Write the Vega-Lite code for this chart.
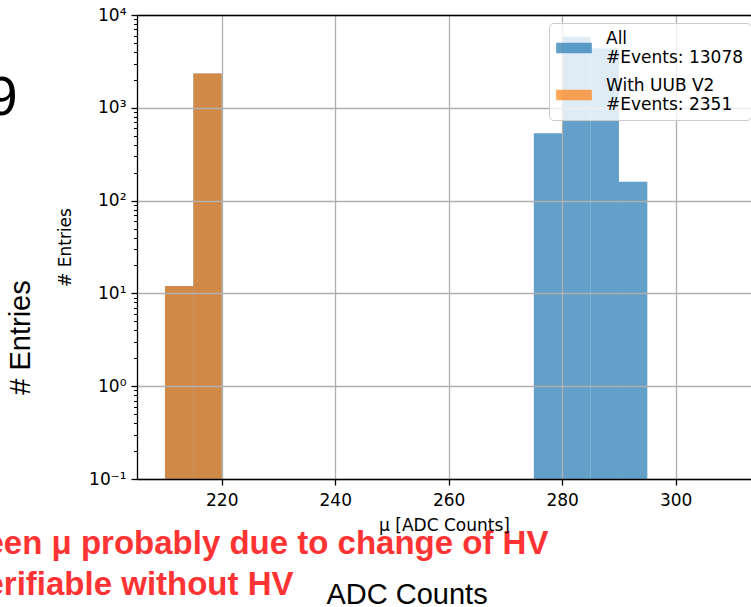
{
  "$schema": "https://vega.github.io/schema/vega-lite/v6.json",
  "width": 614,
  "height": 464,
  "autosize": {"type": "none"},
  "padding": {"left": 137, "top": 15, "right": 0, "bottom": 128},
  "background": "white",
  "view": {"stroke": null},
  "data": {
    "values": [
      {"series": "All", "bin_start": 210, "bin_end": 215, "count": 12},
      {"series": "All", "bin_start": 215, "bin_end": 220, "count": 2339},
      {"series": "All", "bin_start": 275, "bin_end": 280, "count": 531},
      {"series": "All", "bin_start": 280, "bin_end": 285, "count": 5840},
      {"series": "All", "bin_start": 285, "bin_end": 290, "count": 4375},
      {"series": "All", "bin_start": 290, "bin_end": 295, "count": 160},
      {"series": "With UUB V2", "bin_start": 210, "bin_end": 215, "count": 12},
      {"series": "With UUB V2", "bin_start": 215, "bin_end": 220, "count": 2339}
    ]
  },
  "resolve": {"axis": {"x": "independent", "y": "independent"}},
  "layer": [
    {
      "mark": {"type": "bar", "opacity": 0.7, "stroke": null},
      "encoding": {
        "x": {
          "field": "bin_start", "type": "quantitative",
          "scale": {"domain": [205.07, 313.27], "nice": false, "zero": false},
          "axis": {
            "orient": "bottom", "values": [220, 240, 260, 280, 300], "format": "d",
            "grid": true, "gridColor": "#b0b0b0", "gridWidth": 1.3,
            "domainColor": "#000", "domainWidth": 1.3,
            "tickColor": "#000", "tickSize": 6, "tickWidth": 1.3,
            "labelFont": "DejaVu Sans", "labelFontSize": 17, "labelColor": "#000", "labelPadding": 7,
            "title": "μ [ADC Counts]", "titleFont": "DejaVu Sans", "titleFontSize": 17,
            "titleFontWeight": "normal", "titleColor": "#000", "titlePadding": 9,
            "zindex": 1
          }
        },
        "x2": {"field": "bin_end"},
        "y": {
          "field": "count", "type": "quantitative",
          "scale": {"type": "log", "domain": [0.1, 10000], "nice": false},
          "axis": {
            "orient": "left", "values": [0.1, 1, 10, 100, 1000, 10000],
            "labelExpr": "datum.value < 0.5 ? '10⁻¹' : datum.value < 5 ? '10⁰' : datum.value < 50 ? '10¹' : datum.value < 500 ? '10²' : datum.value < 5000 ? '10³' : '10⁴'",
            "grid": true, "gridColor": "#b0b0b0", "gridWidth": 1.3,
            "domainColor": "#000", "domainWidth": 1.3,
            "tickColor": "#000", "tickSize": 6, "tickWidth": 1.3,
            "labelFont": "DejaVu Sans", "labelFontSize": 17, "labelColor": "#000", "labelPadding": 5,
            "title": "# Entries", "titleFont": "DejaVu Sans", "titleFontSize": 17,
            "titleFontWeight": "normal", "titleColor": "#000", "titlePadding": 14,
            "zindex": 1
          }
        },
        "y2": {"datum": 0.1},
        "color": {
          "field": "series", "type": "nominal",
          "scale": {"domain": ["All", "With UUB V2"], "range": ["#1f77b4", "#ff7f0e"]},
          "legend": {
            "orient": "none", "legendX": 412, "legendY": 8,
            "title": null,
            "fillColor": "rgba(255,255,255,0.8)", "strokeColor": "#cccccc", "cornerRadius": 4,
            "padding": 7,
            "symbolType": "M-1,-0.3H1V0.3H-1Z", "symbolSize": 1275, "symbolOpacity": 0.7, "symbolStrokeWidth": 0,
            "labelFont": "DejaVu Sans", "labelFontSize": 17, "labelColor": "#000", "labelOffset": 14,
            "labelBaseline": "bottom",
            "labelLimit": 400, "rowPadding": 11,
            "labelExpr": "datum.value === 'All' ? ['All', '#Events: 13078\u00a0\u00a0\u00a0'] : ['With UUB V2', '#Events: 2351']",
            "zindex": 2
          }
        }
      }
    },
    {
      "mark": {"type": "point", "opacity": 0},
      "encoding": {
        "x": {
          "field": "bin_start", "type": "quantitative",
          "scale": {"domain": [205.07, 313.27], "nice": false, "zero": false},
          "axis": {
            "orient": "bottom", "labels": false, "ticks": false, "domain": false, "grid": false,
            "title": ["een μ probably due to change of HV", "erifiable without HV"],
            "titleColor": "#ff3333", "titleFont": "Liberation Sans", "titleFontSize": 33,
            "titleFontWeight": "bold", "titleAlign": "left", "titleBaseline": "alphabetic",
            "titleX": -152, "titleY": 74, "titleLineHeight": 41
          }
        },
        "y": {
          "field": "count", "type": "quantitative",
          "scale": {"type": "log", "domain": [0.1, 10000], "nice": false},
          "axis": {
            "orient": "left",
            "values": [0.2, 0.3, 0.4, 0.5, 0.6, 0.7, 0.8, 0.9, 2, 3, 4, 5, 6, 7, 8, 9, 20, 30, 40, 50, 60, 70, 80, 90, 200, 300, 400, 500, 600, 700, 800, 900, 2000, 3000, 4000, 5000, 6000, 7000, 8000, 9000],
            "labels": false, "domain": false, "grid": false,
            "ticks": true, "tickColor": "#000", "tickSize": 3.5, "tickWidth": 1,
            "title": "# Entries", "titleFont": "Liberation Sans", "titleFontSize": 29,
            "titleFontWeight": "normal", "titleColor": "#000", "titleAngle": 270,
            "titleAlign": "center", "titleBaseline": "alphabetic",
            "titleX": -108, "titleY": 322,
            "zindex": 1
          }
        }
      }
    },
    {
      "mark": {"type": "point", "opacity": 0},
      "encoding": {
        "x": {
          "field": "bin_start", "type": "quantitative",
          "scale": {"domain": [205.07, 313.27], "nice": false, "zero": false},
          "axis": {
            "orient": "top", "labels": false, "ticks": false, "grid": false,
            "domain": true, "domainColor": "#000", "domainWidth": 1.3,
            "title": "ADC Counts", "titleFont": "Liberation Sans", "titleFontSize": 29,
            "titleFontWeight": "normal", "titleColor": "#000", "titleAlign": "left",
            "titleBaseline": "alphabetic", "titleX": 189, "titleY": 588,
            "zindex": 1
          }
        },
        "y": {
          "field": "count", "type": "quantitative",
          "scale": {"type": "log", "domain": [0.1, 10000], "nice": false},
          "axis": {
            "orient": "left", "labels": false, "ticks": false, "domain": false, "grid": false,
            "title": "9", "titleFont": "Liberation Sans", "titleFontSize": 56,
            "titleFontWeight": "normal", "titleColor": "#000", "titleAngle": 0,
            "titleAlign": "left", "titleBaseline": "alphabetic",
            "titleX": -151, "titleY": 99
          }
        }
      }
    }
  ]
}
